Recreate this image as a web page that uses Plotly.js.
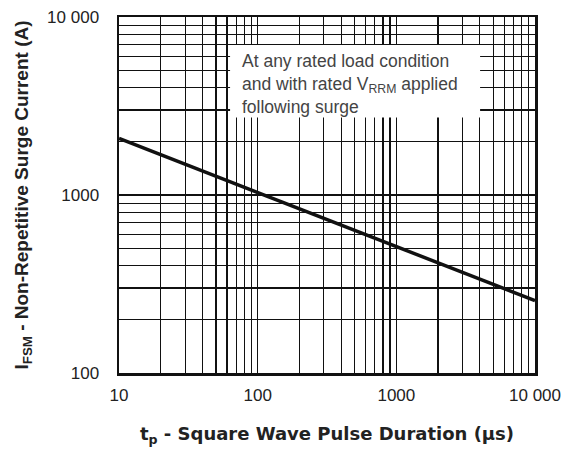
<!DOCTYPE html>
<html>
<head>
<meta charset="utf-8">
<script src="https://cdn.plot.ly/plotly-3.0.1.min.js"></script>
<style>html,body{margin:0;padding:0;background:#fff;}#chart{width:561px;height:452px;}</style>
</head>
<body>
<div id="chart"></div>
<script>
// Data
const pulseDuration = [10, 10000];          // tp (µs)
const surgeCurrent  = [2080, 255];          // IFSM (A)

const decadeX = [10, 100, 1000, 10000];
const decadeXLabels = ["10", "100", "1000", "10 000"];
const decadeY = [100, 1000, 10000];
const decadeYLabels = ["100", "1000", "10 000"];

function gridVals(decades) {
  const v = [];
  for (let i = 0; i < decades.length - 1; i++) {
    for (let m = 1; m <= 9; m++) v.push(decades[i] * m);
  }
  v.push(decades[decades.length - 1]);
  return v;
}
function gridText(vals, decades, labels) {
  return vals.map(v => {
    const k = decades.indexOf(v);
    return k >= 0 ? labels[k] : "";
  });
}
const xv = gridVals(decadeX), yv = gridVals(decadeY);

const sans = "Liberation Sans, Arial, Helvetica, sans-serif";
const wide = "DejaVu Sans, Verdana, sans-serif";

const trace = {
  x: pulseDuration, y: surgeCurrent, type: "scatter", mode: "lines",
  line: {color: "#111", width: 3.5}, hoverinfo: "skip", showlegend: false
};

const layout = {
  width: 561, height: 452,
  margin: {l: 119, r: 26, t: 17, b: 79},
  paper_bgcolor: "#fff", plot_bgcolor: "#fff",
  font: {family: sans, color: "#222", size: 17},
  xaxis: {
    type: "log", range: [1, 4],
    tickmode: "array", tickvals: xv, ticktext: gridText(xv, decadeX, decadeXLabels),
    showgrid: true, gridcolor: "#111", gridwidth: 1.2,
    showline: true, linecolor: "#111", linewidth: 2.5, mirror: true,
    ticks: "", ticklabelstandoff: 5, zeroline: false, ticklabeloverflow: "allow",
    tickfont: {size: 17, color: "#222", family: sans},
    title: {text: "t<sub>p</sub> - Square Wave Pulse Duration (µs)",
            font: {size: 18, color: "#222", family: wide, weight: "bold"}, standoff: 24}
  },
  yaxis: {
    type: "log", range: [2, 4],
    tickmode: "array", tickvals: yv, ticktext: gridText(yv, decadeY, decadeYLabels),
    showgrid: true, gridcolor: "#111", gridwidth: 1.2,
    showline: true, linecolor: "#111", linewidth: 2.5, mirror: true,
    ticks: "", ticklabelstandoff: 14, zeroline: false, ticklabeloverflow: "allow",
    tickfont: {size: 17, color: "#222", family: sans},
    title: {text: "I<sub>FSM</sub> - Non-Repetitive Surge Current (A)",
            font: {size: 19, color: "#222", family: sans, weight: "bold"}, standoff: 14}
  },
  shapes: [{
    type: "rect", xref: "paper", yref: "paper",
    x0: 0.267, x1: 0.868, y0: 0.718, y1: 0.921,
    fillcolor: "#fff", line: {width: 0}, layer: "above"
  }],
  annotations: [{
    xref: "paper", yref: "paper", x: 0.29, y: 0.91,
    xanchor: "left", yanchor: "top", align: "left", showarrow: false,
    text: "At any rated load condition<br>and with rated V<sub>RRM</sub> applied<br>following surge",
    font: {size: 17.5, color: "#444", family: sans}
  }]
};

Plotly.newPlot("chart", [trace], layout, {displayModeBar: false, staticPlot: true});
</script>
</body>
</html>
